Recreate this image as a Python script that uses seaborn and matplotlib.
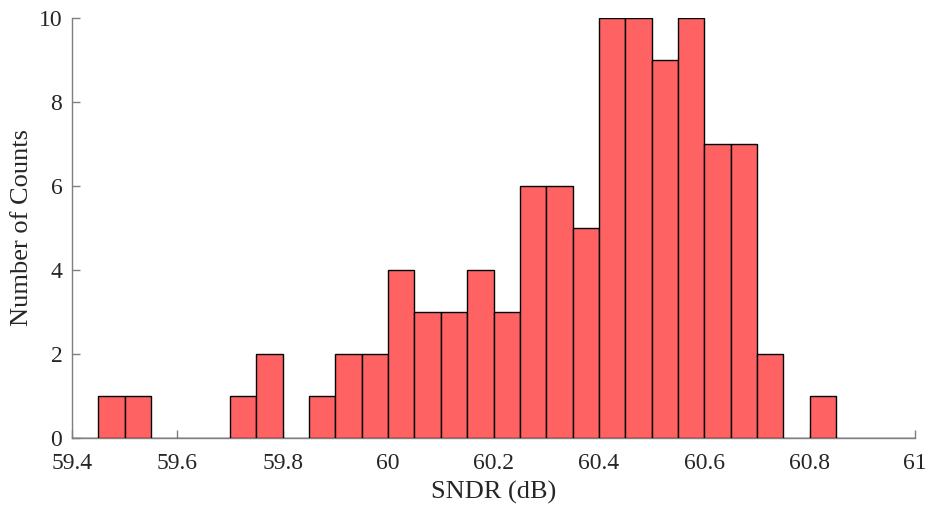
import numpy as np
import pandas as pd
import matplotlib
matplotlib.use("Agg")
import matplotlib.pyplot as plt
import seaborn as sns

# Histogram bins: 0.05 dB wide, spanning 59.4 dB to 61.0 dB
bin_start = 59.40
bin_stop = 61.00
bin_width = 0.05

# Number of chips falling in each SNDR bin
counts = [0, 1, 1, 0, 0, 0, 1, 2,
          0, 1, 2, 2, 4, 3, 3, 4,
          3, 6, 6, 5, 10, 10, 9, 10,
          7, 7, 2, 0, 1, 0, 0, 0]

x_ticks = [59.4, 59.6, 59.8, 60.0, 60.2, 60.4, 60.6, 60.8, 61.0]
x_tick_labels = ["59.4", "59.6", "59.8", "60", "60.2", "60.4", "60.6", "60.8", "61"]
y_ticks = [0, 2, 4, 6, 8, 10]

centers = bin_start + bin_width * (np.arange(len(counts)) + 0.5)
df = pd.DataFrame({"sndr": centers, "count": np.asarray(counts, dtype=float)})

sns.set_style("white")
plt.rcParams["font.family"] = ["Liberation Serif", "DejaVu Serif"]
plt.rcParams["mathtext.fontset"] = "stix"

fig = plt.figure(figsize=(9.3, 5.08), dpi=100)
ax = fig.add_axes([0.0774, 0.1378, 0.9065, 0.8268])

sns.histplot(data=df, x="sndr", weights="count", binwidth=bin_width,
             binrange=(bin_start, bin_stop), ax=ax,
             color="#FF6262", alpha=1.0, edgecolor="black", linewidth=1.0)

ax.set_xlim(bin_start, bin_stop)
ax.set_ylim(0, 10)
ax.set_xticks(x_ticks)
ax.set_xticklabels(x_tick_labels)
ax.set_yticks(y_ticks)

for side in ["top", "right"]:
    ax.spines[side].set_visible(False)
for side in ["left", "bottom"]:
    ax.spines[side].set_color("#7f7f7f")
    ax.spines[side].set_linewidth(1.0)
# bar outlines (including empty bins) sit on top of the baseline
ax.spines["bottom"].set_zorder(0.5)

ax.tick_params(axis="both", which="major", bottom=True, left=True,
               direction="in", length=6, width=1.0,
               color="#7f7f7f", labelsize=17, labelcolor="#262626")
ax.tick_params(axis="x", pad=11)
ax.tick_params(axis="y", pad=7)
ax.set_xlabel("SNDR (dB)", fontsize=19, color="#262626", labelpad=5)
ax.set_ylabel("Number of Counts", fontsize=19, color="#262626", labelpad=4)

fig.savefig("out.png", dpi=100)
